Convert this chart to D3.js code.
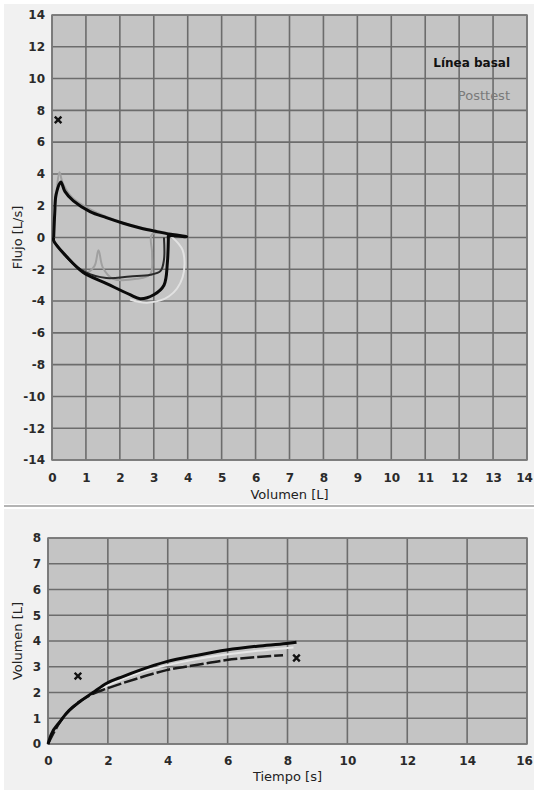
<!DOCTYPE html>
<html><head><meta charset="utf-8">
<script src="https://cdn.jsdelivr.net/npm/d3@7"></script>
<style>body{margin:0;background:#fff}svg{display:block}</style>
</head><body>
<script>
// ---- data ----
const flowTicks = d3.range(-14, 15, 2);
const volTicks = d3.range(0, 15, 1);
const vtTimeTicks = d3.range(0, 17, 2);
const vtVolTicks = d3.range(0, 9, 1);

// Flow-volume: [volume L, flow L/s]
const baselineFV = [[0.05,0],[0.08,1.5],[0.12,2.7],[0.26,3.5],[0.38,2.9],[0.63,2.3],[1.12,1.63],[1.6,1.25],[2.1,0.9],[2.6,0.6],[3.09,0.37],[3.5,0.2],[3.97,0.05],
  [3.43,0.1],[3.43,0],[3.4,-1.6],[3.3,-3.0],[3.0,-3.6],[2.6,-3.85],[2.3,-3.6],[1.61,-2.9],[0.92,-2.2],[0.43,-1.2],[0.05,-0.2],[0.05,0]];
const baselineFV2 = [[3.3,0],[3.3,-1.4],[3.2,-2.1],[2.9,-2.35],[2.3,-2.45],[1.6,-2.55],[1.0,-2.2],[0.5,-1.4],[0.08,-0.3]];
const posttestFV = [[0.05,0],[0.15,3.2],[0.22,4.1],[0.32,3.4],[0.6,2.5],[1.1,1.8],[2.0,1.0],[3.0,0.45],[3.8,0.1],
  [2.95,0.2],[2.95,-1.0],[2.9,-2.3],[2.5,-2.6],[1.8,-2.6],[1.5,-1.9],[1.37,-0.8],[1.25,-1.8],[1.0,-2.2],[0.5,-1.4],[0.05,-0.3]];
const posttestHalo = [[3.5,0.1],[3.85,-0.8],[3.85,-2.5],[3.45,-3.7],[2.8,-4.1],[2.3,-3.9]];
const fvMarker = [[0.18,7.4]];

// Volume-time: [time s, volume L]
const baselineVT = [[0,0],[0.1,0.35],[0.4,0.87],[0.7,1.3],[1.07,1.65],[1.5,2.0],[1.96,2.36],[2.5,2.62],[3.07,2.87],[3.96,3.2],[5.0,3.45],[5.96,3.65],[7.0,3.8],[7.96,3.9],[8.3,3.95]];
const posttestVT = [[0,0],[0.4,0.85],[1.0,1.6],[1.5,1.95],[1.96,2.15],[3.0,2.55],[3.96,2.87],[5.0,3.08],[5.96,3.26],[7.0,3.38],[7.85,3.45]];
const posttestVTLight = [[1.5,2.02],[3.0,2.75],[5.0,3.3],[7.0,3.62],[8.2,3.75]];
const vtMarkers = [[1.0,2.64],[8.3,3.34]];

const legendLabels = ["Línea basal", "Posttest"];

// ---- drawing ----
const W = 534, H = 790;
const svg = d3.select("body").append("svg").attr("width", W).attr("height", H);
svg.append("rect").attr("x",4).attr("y",4).attr("width",W-4).attr("height",500).attr("fill","#f1f1f1");
svg.append("line").attr("x1",4).attr("x2",W).attr("y1",506).attr("y2",506).attr("stroke","#b4b4b4").attr("stroke-width",2);
svg.append("rect").attr("x",4).attr("y",509).attr("width",W-4).attr("height",H-509).attr("fill","#f1f1f1");

const tickFont = "DejaVu Sans";
function panel(xs, ys, xt, yt, xTitle, yTitle, xTitleY, yTitleX, xPad) {
  const [x0,x1] = xs.range(), [y0,y1] = ys.range();
  const g = svg.append("g");
  g.append("rect").attr("x",x0).attr("y",y1).attr("width",x1-x0).attr("height",y0-y1).attr("fill","#c4c4c4");
  g.selectAll(".vg").data(xt).join("line").attr("x1",d=>xs(d)).attr("x2",d=>xs(d)).attr("y1",y1).attr("y2",y0)
    .attr("stroke","#6c6c6c").attr("stroke-width",1.6);
  g.selectAll(".hg").data(yt).join("line").attr("y1",d=>ys(d)).attr("y2",d=>ys(d)).attr("x1",x0).attr("x2",x1)
    .attr("stroke","#6c6c6c").attr("stroke-width",1.6);
  g.append("rect").attr("x",x0).attr("y",y1).attr("width",x1-x0).attr("height",y0-y1).attr("fill","none").attr("stroke","#7a7a7a").attr("stroke-width",1.5);
  const ax = g.append("g").attr("transform",`translate(0,${y0})`).call(d3.axisBottom(xs).tickValues(xt).tickSize(0).tickPadding(xPad).tickFormat(d3.format("d")));
  const ay = g.append("g").attr("transform",`translate(${x0},0)`).call(d3.axisLeft(ys).tickValues(yt).tickSize(0).tickPadding(7).tickFormat(d=>d<0?"-"+Math.abs(d):d));
  [ax,ay].forEach(a=>{a.select(".domain").remove();a.selectAll("text").attr("font-family",tickFont).attr("font-weight","bold").attr("font-size",12).attr("fill","#2a2a2a");});
  ax.selectAll(".tick:last-of-type text").attr("dx",-3);
  g.append("text").attr("x",(x0+x1)/2).attr("y",xTitleY).attr("text-anchor","middle").attr("font-family",tickFont).attr("font-size",13).attr("fill","#222").text(xTitle);
  g.append("text").attr("transform",`translate(${yTitleX},${(y0+y1)/2}) rotate(-90)`).attr("text-anchor","middle").attr("font-family",tickFont).attr("font-size",13).attr("fill","#222").text(yTitle);
  return g;
}

// top: flow-volume
const xFV = d3.scaleLinear().domain([0,14]).range([52,527]);
const yFV = d3.scaleLinear().domain([-14,14]).range([460,15]);
const gTop = panel(xFV, yFV, volTicks, flowTicks, "Volumen [L]", "Flujo [L/s]", 499, 22, 13);
const lineFV = d3.line().x(d=>xFV(d[0])).y(d=>yFV(d[1])).curve(d3.curveCatmullRom.alpha(0.5));
gTop.append("path").datum(posttestHalo).attr("d",lineFV).attr("fill","none").attr("stroke","#e2e2e2").attr("stroke-width",2);
gTop.append("path").datum(posttestFV).attr("d",lineFV).attr("fill","none").attr("stroke","#a0a0a0").attr("stroke-width",2);
gTop.append("path").datum(baselineFV2).attr("d",lineFV).attr("fill","none").attr("stroke","#2a2a2a").attr("stroke-width",2);
gTop.append("path").datum(baselineFV).attr("d",lineFV).attr("fill","none").attr("stroke","#0a0a0a").attr("stroke-width",3);
const cross = d3.symbol().type(d3.symbolX).size(30);
gTop.selectAll(".mk").data(fvMarker).join("path").attr("d",cross).attr("transform",d=>`translate(${xFV(d[0])},${yFV(d[1])})`)
  .attr("fill","none").attr("stroke","#111").attr("stroke-width",2.4);
gTop.append("text").attr("x",510).attr("y",67).attr("text-anchor","end").attr("font-family",tickFont).attr("font-weight","bold").attr("font-size",12).attr("fill","#111").text(legendLabels[0]);
gTop.append("text").attr("x",510).attr("y",100).attr("text-anchor","end").attr("font-family",tickFont).attr("font-size",13).attr("fill","#7a7a7a").text(legendLabels[1]);

// bottom: volume-time
const xVT = d3.scaleLinear().domain([0,16]).range([48,527]);
const yVT = d3.scaleLinear().domain([0,8]).range([744,538]);
const gBot = panel(xVT, yVT, vtTimeTicks, vtVolTicks, "Tiempo [s]", "Volumen [L]", 781, 22, 12);
const lineVT = d3.line().x(d=>xVT(d[0])).y(d=>yVT(d[1])).curve(d3.curveMonotoneX);
gBot.append("path").datum(posttestVTLight).attr("d",lineVT).attr("fill","none").attr("stroke","#e6e6e6").attr("stroke-width",2);
gBot.append("path").datum(posttestVT).attr("d",lineVT).attr("fill","none").attr("stroke","#1a1a1a").attr("stroke-width",2.5).attr("stroke-dasharray","14,3");
gBot.append("path").datum(baselineVT).attr("d",lineVT).attr("fill","none").attr("stroke","#0a0a0a").attr("stroke-width",3);
gBot.selectAll(".mk").data(vtMarkers).join("path").attr("d",cross).attr("transform",d=>`translate(${xVT(d[0])},${yVT(d[1])})`)
  .attr("fill","none").attr("stroke","#111").attr("stroke-width",2.4);
</script>
</body></html>
